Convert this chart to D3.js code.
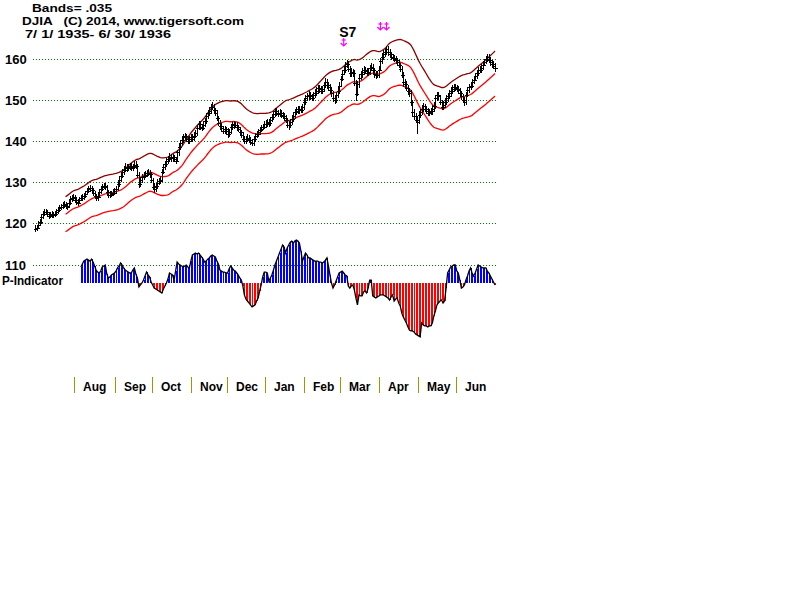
<!DOCTYPE html>
<html><head><meta charset="utf-8">
<script src="https://cdn.jsdelivr.net/npm/d3@7/dist/d3.min.js"></script>
<style>body{margin:0;background:#fff}svg{display:block}</style>
</head><body>
<svg id="c" width="800" height="600"></svg>
<script>
// ---------------- DATA ----------------
const titleLines = ["Bands= .035", "DJIA   (C) 2014, www.tigersoft.com", "7/ 1/ 1935- 6/ 30/ 1936"];
const monthLabels = ["Jul","Aug","Sep","Oct","Nov","Dec","Jan","Feb","Mar","Apr","May","Jun"];
const monthDays = [26,27,24,26,23,25,26,23,26,25,25,26];   // trading days per month
const priceTicks = [120,130,140,150,160];
const indTicks = [110];
const bandPct = 0.035;
const maLen = 21;

const closes = [
// Jul
118.6,118.9,119.6,120.2,121.4,122.3,122.6,122.8,122.2,121.8,122.0,122.1,121.9,122.3,122.6,123.1,123.6,123.9,124.3,124.6,124.1,124.0,124.9,125.8,126.0,126.3,
// Aug
125.6,125.2,125.0,125.7,126.1,126.2,126.5,127.1,127.8,128.2,128.5,128.0,127.3,126.6,126.1,126.4,127.5,128.4,128.8,129.0,128.9,127.6,126.8,126.9,127.1,127.4,127.7,
// Sep
128.3,129.4,130.6,131.5,132.4,133.0,133.7,133.4,133.6,133.9,133.5,133.6,134.2,134.0,131.7,129.4,130.5,131.2,131.5,131.8,132.1,132.3,131.9,130.4,
// Oct
128.9,128.2,129.0,129.8,130.2,130.6,132.5,133.6,134.4,135.1,135.6,136.2,135.8,136.0,135.6,135.2,137.2,138.6,139.5,140.3,140.9,141.2,140.5,140.0,140.4,141.0,
// Nov
140.5,141.3,141.9,143.2,144.1,143.5,143.2,144.0,144.8,146.0,146.8,147.4,148.2,148.4,147.6,146.9,145.6,144.4,143.6,143.1,142.5,142.9,142.4,
// Dec
141.6,142.3,143.4,144.1,143.8,143.9,143.3,142.9,142.2,141.5,140.6,140.1,140.5,140.8,140.3,139.8,139.5,140.4,141.2,141.6,142.1,142.6,143.0,143.4,144.1,
// Jan
144.2,144.6,144.3,145.1,145.8,146.6,147.3,146.9,146.6,146.9,146.4,146.1,145.7,145.2,144.0,143.8,144.6,145.4,146.2,147.0,147.4,147.7,147.5,147.6,148.3,149.6,
// Feb
150.4,150.9,151.3,150.9,150.6,151.2,151.8,152.3,152.9,152.6,152.2,152.7,153.6,154.5,153.6,153.1,152.5,151.6,150.4,150.0,151.2,152.3,153.5,
// Mar
155.1,156.4,157.2,158.4,158.8,157.6,156.5,156.9,156.6,154.2,151.5,153.8,155.4,156.3,156.9,157.4,157.1,156.6,156.9,157.8,158.1,157.2,156.3,156.0,156.2,157.4,
// Apr
159.4,160.6,161.3,161.8,162.4,161.6,161.2,160.6,160.3,160.0,159.7,159.2,158.6,157.6,156.1,154.3,153.8,152.9,152.2,151.6,149.4,147.0,146.1,145.2,144.6,
// May
146.4,147.1,147.9,148.5,147.8,147.3,146.8,147.0,147.2,147.9,148.6,150.5,151.2,150.9,149.6,148.3,148.9,149.6,150.4,151.0,151.6,152.3,152.8,153.2,153.0,
// Jun
152.7,152.4,151.6,150.9,150.1,149.4,151.3,152.4,153.1,153.5,154.3,155.0,155.8,156.5,157.2,157.4,157.9,158.6,159.2,159.9,160.4,159.8,159.2,158.7,158.3,157.7
];

const highs = [
119.4,119.5,120.3,120.9,122.0,122.9,123.3,123.4,123.1,122.6,122.6,122.8,122.6,122.9,123.2,123.8,124.2,124.5,124.9,125.3,125.0,124.7,125.5,126.4,126.7,126.9,
126.6,126.1,125.8,126.3,126.8,126.9,127.2,127.8,128.5,128.9,129.2,128.9,128.4,127.7,127.0,127.1,128.1,129.0,129.5,129.7,129.6,129.2,127.9,127.6,127.8,128.1,128.4,
128.9,130.1,131.3,132.2,133.1,133.7,134.4,134.3,134.2,134.6,134.5,134.3,134.9,134.9,134.3,132.2,131.2,131.9,132.2,132.5,132.8,133.0,132.7,132.3,
130.9,129.6,129.7,130.5,130.9,131.3,133.1,134.3,135.1,135.8,136.3,136.9,136.7,136.7,136.4,136.0,137.8,139.3,140.2,141.0,141.6,141.9,141.6,140.9,141.0,141.7,
141.5,142.0,142.6,143.9,144.8,144.8,144.1,144.7,145.5,146.7,147.5,148.1,148.9,149.3,148.9,148.0,147.4,146.0,144.9,144.2,143.6,143.6,143.4,
143.0,142.9,144.0,144.8,144.7,144.6,144.5,143.7,143.4,142.6,142.0,141.2,141.2,141.5,141.4,140.9,140.4,141.1,141.9,142.4,142.8,143.3,143.7,144.1,144.8,
145.0,145.3,145.2,145.8,146.5,147.3,148.0,147.9,147.5,147.6,147.5,146.9,146.6,146.2,145.6,144.7,145.3,146.1,146.9,147.7,148.1,148.4,148.3,148.3,149.0,150.4,
151.2,151.6,152.0,151.9,151.4,151.9,152.5,153.0,153.6,153.5,153.2,153.4,154.3,155.2,155.0,154.2,153.7,153.0,152.0,151.0,151.9,153.0,154.2,
155.8,157.1,157.9,159.1,159.6,159.4,158.2,157.6,157.5,157.2,154.8,154.5,156.1,157.0,157.6,158.1,158.0,157.7,157.6,158.5,158.8,158.6,157.8,156.9,156.9,158.1,
160.1,161.3,162.0,162.5,163.1,163.0,162.3,161.7,161.2,160.9,160.6,160.2,159.6,158.9,158.1,156.6,155.0,154.4,153.5,152.8,152.2,150.0,147.8,146.8,146.0,
147.1,147.8,148.6,149.2,149.0,148.4,147.9,147.7,147.9,148.6,149.3,151.2,151.9,151.8,151.2,149.9,149.6,150.3,151.1,151.7,152.3,153.0,153.5,153.9,153.8,
153.6,153.3,152.9,152.0,151.4,150.6,151.9,153.1,153.8,154.2,155.0,155.7,156.5,157.2,157.9,158.1,158.6,159.3,159.9,160.6,161.1,161.0,160.3,159.7,159.3,158.8
];

const lows = [
117.9,118.1,118.7,119.4,120.0,121.2,121.8,122.0,121.6,121.2,121.3,121.4,121.3,121.5,121.9,122.4,122.8,123.2,123.5,123.9,123.5,123.4,123.8,124.6,125.3,125.5,
124.9,124.6,124.3,124.8,125.4,125.5,125.8,126.3,126.9,127.5,127.8,127.3,126.7,125.9,125.4,125.6,126.1,127.3,128.0,128.3,128.1,127.0,126.1,126.2,126.4,126.7,127.0,
127.3,127.9,129.0,130.1,131.0,131.8,132.5,132.6,132.7,133.0,132.8,132.7,133.2,133.2,131.1,128.6,129.0,130.0,130.7,131.0,131.3,131.6,131.2,129.8,
128.2,127.5,127.7,128.5,129.3,129.7,130.2,132.0,133.0,133.8,134.5,135.1,135.1,135.1,134.9,134.5,134.9,136.5,138.0,138.9,139.7,140.3,139.8,139.3,139.4,139.9,
139.8,140.1,140.9,141.4,142.8,142.8,142.5,142.7,143.6,144.3,145.6,146.3,146.8,147.6,146.9,146.2,144.9,143.8,142.9,142.4,141.8,141.9,141.7,
140.9,141.2,141.8,142.8,143.1,143.2,142.6,142.2,141.5,140.8,139.9,139.4,139.5,140.0,139.6,139.1,138.8,139.0,139.9,140.8,141.2,141.5,142.3,142.7,143.1,
143.4,143.6,143.5,143.9,144.8,145.3,146.0,146.2,145.9,145.9,145.7,145.4,145.0,144.5,143.3,142.8,143.2,144.0,144.8,145.6,146.4,146.8,146.8,146.9,147.0,147.8,
148.9,149.8,150.2,150.2,149.9,150.0,150.6,151.1,151.6,151.9,151.5,151.5,152.0,153.0,152.9,152.4,151.8,150.9,149.6,149.2,149.4,150.6,151.7,
153.2,154.7,156.3,156.8,157.9,156.9,155.8,155.8,155.8,153.5,149.8,151.0,153.1,155.0,155.6,156.2,156.4,155.9,155.9,156.2,157.1,156.5,155.6,155.3,155.4,155.6,
157.1,158.9,159.9,160.6,161.1,160.9,160.5,159.9,159.6,159.3,159.0,158.5,157.9,156.9,155.4,153.4,152.9,152.2,151.4,150.8,148.7,146.0,145.2,144.4,141.8,
144.2,145.7,146.4,147.2,147.1,146.6,146.1,146.1,146.5,146.5,147.2,148.0,150.0,150.1,148.9,147.6,147.6,148.2,148.9,149.7,150.3,150.9,151.6,152.1,152.3,
152.0,151.7,150.9,150.2,149.4,148.6,149.0,150.8,151.9,152.5,153.0,154.0,154.7,155.3,156.0,156.7,156.8,157.5,158.3,158.8,159.3,159.1,158.5,158.0,157.6,157.0
];

// P-Indicator, starting at trading day index pStart
const pStart = 30;
const pInd = [
98,116,134,140,146,140,134,146,128,104,
79,67,61,73,98,104,110,55,31,37,
49,55,61,73,92,104,122,110,92,79,
73,67,61,61,79,92,55,31,-24,-12,
0,18,43,67,49,37,6,-12,-31,-37,
-43,-49,-55,-61,-37,-18,0,24,61,55,
49,18,73,128,116,110,104,98,104,110,
98,92,134,171,177,183,177,183,171,159,
146,128,134,146,153,165,171,165,159,134,
116,79,73,67,67,61,61,85,104,92,
79,73,61,49,31,18,-18,-73,-98,-110,
-122,-134,-146,-140,-134,-110,-92,-49,-12,37,
67,67,61,12,31,49,79,110,134,159,
183,207,232,220,183,214,232,250,256,244,
256,262,256,244,195,134,159,183,171,153,
153,146,140,134,134,134,128,128,122,128,
140,153,104,49,0,-31,-12,12,37,61,
67,73,61,49,43,-18,-31,-18,-12,-43,
-92,-134,-73,-79,-79,-55,-49,-61,-31,18,
18,-79,-85,-92,-85,-79,-73,-73,-73,-79,
-85,-92,-104,-85,-73,-110,-98,-92,-122,-140,
-183,-207,-226,-244,-268,-287,-293,-293,-299,-311,
-317,-323,-329,-244,-256,-262,-262,-268,-262,-262,
-244,-201,-171,-134,-122,-110,-104,-122,-110,-31,
61,79,98,104,110,110,73,61,18,-31,
-24,-12,18,43,73,92,61,43,61,85,
110,104,98,92,92,92,73,61,43,24,
6,-12
];

// Buy/sell signal markers (trading day index)
const signals = [
  {idx: 202, label: "S7", row: 1},
  {idx: 226, label: "",   row: 0},
  {idx: 230, label: "",   row: 0}
];

// ---------------- DRAW ----------------
const N = closes.length;
const svg = d3.select("#c");
const font = "'Liberation Sans', Arial, sans-serif";

const x = d3.scaleLinear().domain([0, N - 1]).range([35, 495]);
const yP = d3.scaleLinear().domain([120, 160]).range([223, 59]);
const yI = d3.scaleLinear().domain([0, 110]).range([283, 265]);
const gridL = 33, gridR = 497;

// title
const tY = [11.5, 24.5, 37.5];
const tX = [32, 22, 25];
const tLen = [80, 222, 146];
titleLines.forEach((t, k) => {
  svg.append("text").attr("x", tX[k]).attr("y", tY[k])
    .attr("font-family", font).attr("font-weight", "bold").attr("font-size", 11.5)
    .attr("textLength", tLen[k]).attr("lengthAdjust", "spacingAndGlyphs")
    .attr("xml:space", "preserve").style("white-space", "pre")
    .text(t);
});

// price grid
svg.append("g").selectAll("line").data(priceTicks).join("line")
  .attr("x1", gridL).attr("x2", gridR)
  .attr("y1", d => Math.round(yP(d)) + 0.5).attr("y2", d => Math.round(yP(d)) + 0.5)
  .attr("stroke", "#008000").attr("stroke-dasharray", "1,2").attr("shape-rendering", "crispEdges");
svg.append("g").selectAll("text").data(priceTicks).join("text")
  .attr("x", 5).attr("y", d => yP(d) + 4.5)
  .attr("font-family", font).attr("font-weight", "bold").attr("font-size", 13)
  .text(d => d);

// indicator grid
svg.append("g").selectAll("line").data(indTicks).join("line")
  .attr("x1", gridL).attr("x2", gridR)
  .attr("y1", d => Math.round(yI(d)) + 0.5).attr("y2", d => Math.round(yI(d)) + 0.5)
  .attr("stroke", "#008000").attr("stroke-dasharray", "1,2").attr("shape-rendering", "crispEdges");
svg.append("g").selectAll("text").data(indTicks).join("text")
  .attr("x", 5).attr("y", d => yI(d) + 4.5)
  .attr("font-family", font).attr("font-weight", "bold").attr("font-size", 13)
  .text(d => d);
svg.append("text").attr("x", 2).attr("y", 285)
  .attr("font-family", font).attr("font-weight", "bold").attr("font-size", 12)
  .attr("textLength", 61).attr("lengthAdjust", "spacingAndGlyphs")
  .text("P-Indicator");

// bands (21-day moving average +/- 3.5%)
const ma = closes.map((c, i) => i < maLen - 1 ? null : d3.mean(closes.slice(i - maLen + 1, i + 1)));
const bandDefs = [
  {k: 1 + bandPct, color: "#8b0000"},
  {k: 1, color: "#ff0000"},
  {k: 1 - bandPct, color: "#ff0000"}
];
bandDefs.forEach(b => {
  const line = d3.line()
    .defined(d => d != null)
    .x((d, i) => x(i))
    .y(d => yP(d * b.k));
  svg.append("path").attr("d", line(ma)).attr("fill", "none")
    .attr("stroke", b.color).attr("stroke-width", 1.3);
});

// price bars
const bars = svg.append("g").attr("shape-rendering", "crispEdges").attr("stroke", "#000");
closes.forEach((c, i) => {
  const xi = Math.round(x(i)) + 0.5;
  bars.append("line").attr("x1", xi).attr("x2", xi)
    .attr("y1", yP(lows[i]) + 0.5).attr("y2", yP(highs[i]) - 0.5);
  const yc = Math.round(yP(c)) + 0.5;
  bars.append("line").attr("x1", xi - 1.5).attr("x2", xi + 2.5).attr("y1", yc).attr("y2", yc);
});

// P-indicator bars
const pg = svg.append("g").attr("shape-rendering", "crispEdges");
pInd.forEach((v, j) => {
  const i = pStart + j;
  const xi = Math.round(x(i)) + 0.5;
  pg.append("line").attr("x1", xi).attr("x2", xi)
    .attr("y1", yI(0)).attr("y2", yI(v))
    .attr("stroke", v >= 0 ? "#0000ff" : "#ff0000");
});
svg.append("path")
  .attr("d", d3.line().x((v, j) => x(pStart + j)).y(v => yI(v))(pInd))
  .attr("fill", "none").attr("stroke", "#000").attr("stroke-width", 1.3);

// month ticks and labels
let cum = 0;
const starts = monthDays.map(d => { const s = cum; cum += d; return s; });
const ticks = starts.slice(1).map((s, k) => ({idx: s, label: monthLabels[k + 1]}));
svg.append("g").selectAll("line").data(ticks).join("line")
  .attr("x1", d => Math.round(x(d.idx)) - 0.5).attr("x2", d => Math.round(x(d.idx)) - 0.5)
  .attr("y1", 377).attr("y2", 393)
  .attr("stroke", "#999900").attr("shape-rendering", "crispEdges");
svg.append("g").selectAll("text").data(ticks).join("text")
  .attr("x", d => Math.round(x(d.idx)) + 8).attr("y", 391)
  .attr("font-family", font).attr("font-weight", "bold").attr("font-size", 12)
  .text(d => d.label);

// signal markers
const sg = svg.append("g").attr("stroke", "#ff00ff").attr("fill", "none").attr("stroke-width", 1.2);
signals.forEach(s => {
  const cx = x(s.idx);
  const top = s.row === 1 ? 38 : 22;
  const bot = top + 8;
  sg.append("line").attr("x1", cx).attr("x2", cx).attr("y1", top).attr("y2", bot);
  sg.append("polyline").attr("points", `${cx-3},${bot-3} ${cx},${bot} ${cx+3},${bot-3}`);
  sg.append("line").attr("x1", cx - 2).attr("x2", cx + 2).attr("y1", top + 2).attr("y2", top + 2);
  if (s.label) {
    svg.append("text").attr("x", cx + 4).attr("y", top - 1).attr("text-anchor", "middle")
      .attr("font-family", font).attr("font-weight", "bold").attr("font-size", 14)
      .text(s.label);
  }
});
</script>
</body></html>
